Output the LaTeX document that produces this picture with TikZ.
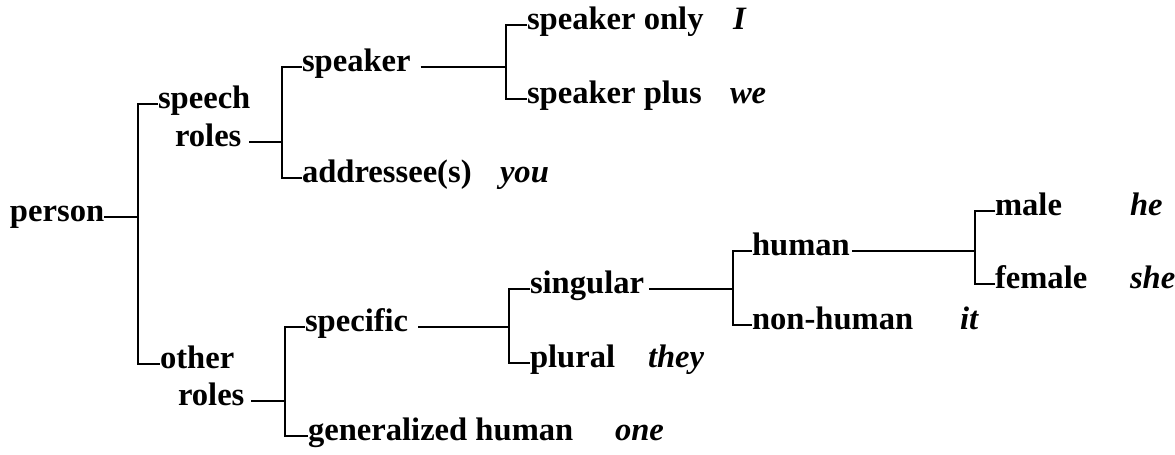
\documentclass[tikz,border=0pt]{standalone}
\usepackage{fontspec}
\setmainfont{Liberation Serif}
\begin{document}
\begin{tikzpicture}[x=0.5pt,y=-0.5pt,
  lbl/.style={anchor=west,inner sep=0pt,outer sep=0pt,font=\fontsize{16.3}{19}\selectfont\bfseries,text height=0.68em,text depth=0.24em},
  pro/.style={lbl,font=\fontsize{16.3}{19}\selectfont\bfseries\itshape},
  br/.style={line width=1.35pt},
]
\useasboundingbox (0,0) rectangle (1175,455);
\node[lbl] (person) at (10,217) {person};
\node[lbl] (speech) at (158,104) {speech};
\node[lbl] (roles1) at (175,142) {roles};
\node[lbl] (speaker) at (302,67) {speaker};
\node[lbl] (sponly) at (527,25) {speaker only};
\node[pro] (I) at (733,25) {I};
\node[lbl] (spplus) at (527,99) {speaker plus};
\node[pro] (we) at (730,99) {we};
\node[lbl] (addr) at (302,178) {addressee(s)};
\node[pro] (you) at (500,178) {you};
\node[lbl] (other) at (160,364) {other};
\node[lbl] (roles2) at (178,401) {roles};
\node[lbl] (specific) at (305,327) {specific};
\node[lbl] (singular) at (530,289) {singular};
\node[lbl] (plural) at (530,363) {plural};
\node[pro] (they) at (648,363) {they};
\node[lbl] (gen) at (308,436) {generalized human};
\node[pro] (one) at (615,436) {one};
\node[lbl] (human) at (752,251) {human};
\node[lbl] (nonhuman) at (752,325) {non-human};
\node[pro] (it) at (960,325) {it};
\node[lbl] (male) at (995,211) {male};
\node[pro] (he) at (1130,211) {he};
\node[lbl] (female) at (995,284) {female};
\node[pro] (she) at (1130,284) {she};
\coordinate (b1) at (138,217);
\coordinate (b2) at (282,142);
\coordinate (b3) at (506,67);
\coordinate (b4) at (285,401);
\coordinate (b5) at (509,327);
\coordinate (b6) at (733,289);
\coordinate (b7) at (975,251);
\draw[br] (person.east) -- (b1);
\draw[br] (speech.west) -| (b1) |- (other.west);
\draw[br,shorten <=4pt] (roles1.east) -- (b2);
\draw[br] (speaker.west) -| (b2) |- (addr.west);
\draw[br,shorten <=5pt] (speaker.east) -- (b3);
\draw[br] (sponly.west) -| (b3) |- (spplus.west);
\draw[br,shorten <=3.5pt] (roles2.east) -- (b4);
\draw[br] (specific.west) -| (b4) |- (gen.west);
\draw[br,shorten <=5pt] (specific.east) -- (b5);
\draw[br] (singular.west) -| (b5) |- (plural.west);
\draw[br,shorten <=2.5pt] (singular.east) -- (b6);
\draw[br] (human.west) -| (b6) |- (nonhuman.west);
\draw[br,shorten <=1pt] (human.east) -- (b7);
\draw[br] (male.west) -| (b7) |- (female.west);
\end{tikzpicture}
\end{document}
